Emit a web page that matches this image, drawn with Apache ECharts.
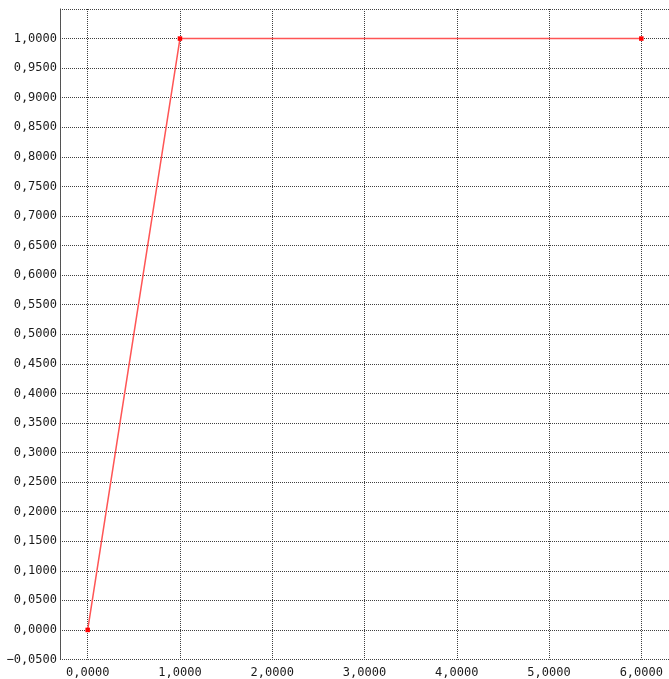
<!DOCTYPE html>
<html>
<head>
<meta charset="utf-8">
<script src="https://cdn.jsdelivr.net/npm/echarts@6/dist/echarts.min.js"></script>
<style>
  html, body { margin: 0; padding: 0; background: #fff; }
  #chart { width: 669px; height: 679px; }
</style>
</head>
<body>
<div id="chart"></div>
<script>
// Step response samples: x positions and y values
const xValues = [0, 1, 6];
const yValues = [0, 1, 1];

// Axis ranges and x tick positions
const xRange = [-0.3, 6.3];
const yRange = [-0.05, 1.05];
const xTicks = [0, 1, 2, 3, 4, 5, 6];
const yStep = 0.05;

const fmt = v => {
  const s = Math.abs(v).toFixed(4).replace('.', ',');
  return (v < -1e-9 ? '\u2212' : '') + s;
};

const gridLine = { color: '#404040', width: 1, type: [1, 1] };
const labelFont = { fontFamily: 'DejaVu Sans Mono', fontSize: 12, color: '#1a1a1a' };

const chart = echarts.init(document.getElementById('chart'), null, { renderer: 'canvas' });
chart.setOption({
  animation: false,
  backgroundColor: '#ffffff',
  grid: { left: 60, top: 9, width: 614, height: 650.5, containLabel: false },
  xAxis: {
    type: 'value',
    min: xRange[0], max: xRange[1],
    axisLine: { show: false, onZero: false },
    axisTick: { show: false, customValues: xTicks },
    splitLine: { show: true, lineStyle: gridLine },
    axisLabel: Object.assign({
      margin: 7,
      customValues: xTicks,
      formatter: v => fmt(v)
    }, labelFont)
  },
  yAxis: {
    type: 'value',
    min: yRange[0], max: yRange[1], interval: yStep,
    axisLine: { show: true, onZero: false, lineStyle: gridLine },
    axisTick: { show: false },
    splitLine: { show: true, lineStyle: gridLine },
    axisLabel: Object.assign({
      margin: 3,
      showMaxLabel: false,
      formatter: v => fmt(v)
    }, labelFont)
  },
  series: [{
    type: 'line',
    data: xValues.map((x, i) => [x, yValues[i]]),
    symbol: 'rect',
    symbolSize: 4.5,
    showAllSymbol: true,
    itemStyle: { color: '#ff0000' },
    lineStyle: { color: '#ff5555', width: 1.5 },
    clip: false
  }]
});
</script>
</body>
</html>
